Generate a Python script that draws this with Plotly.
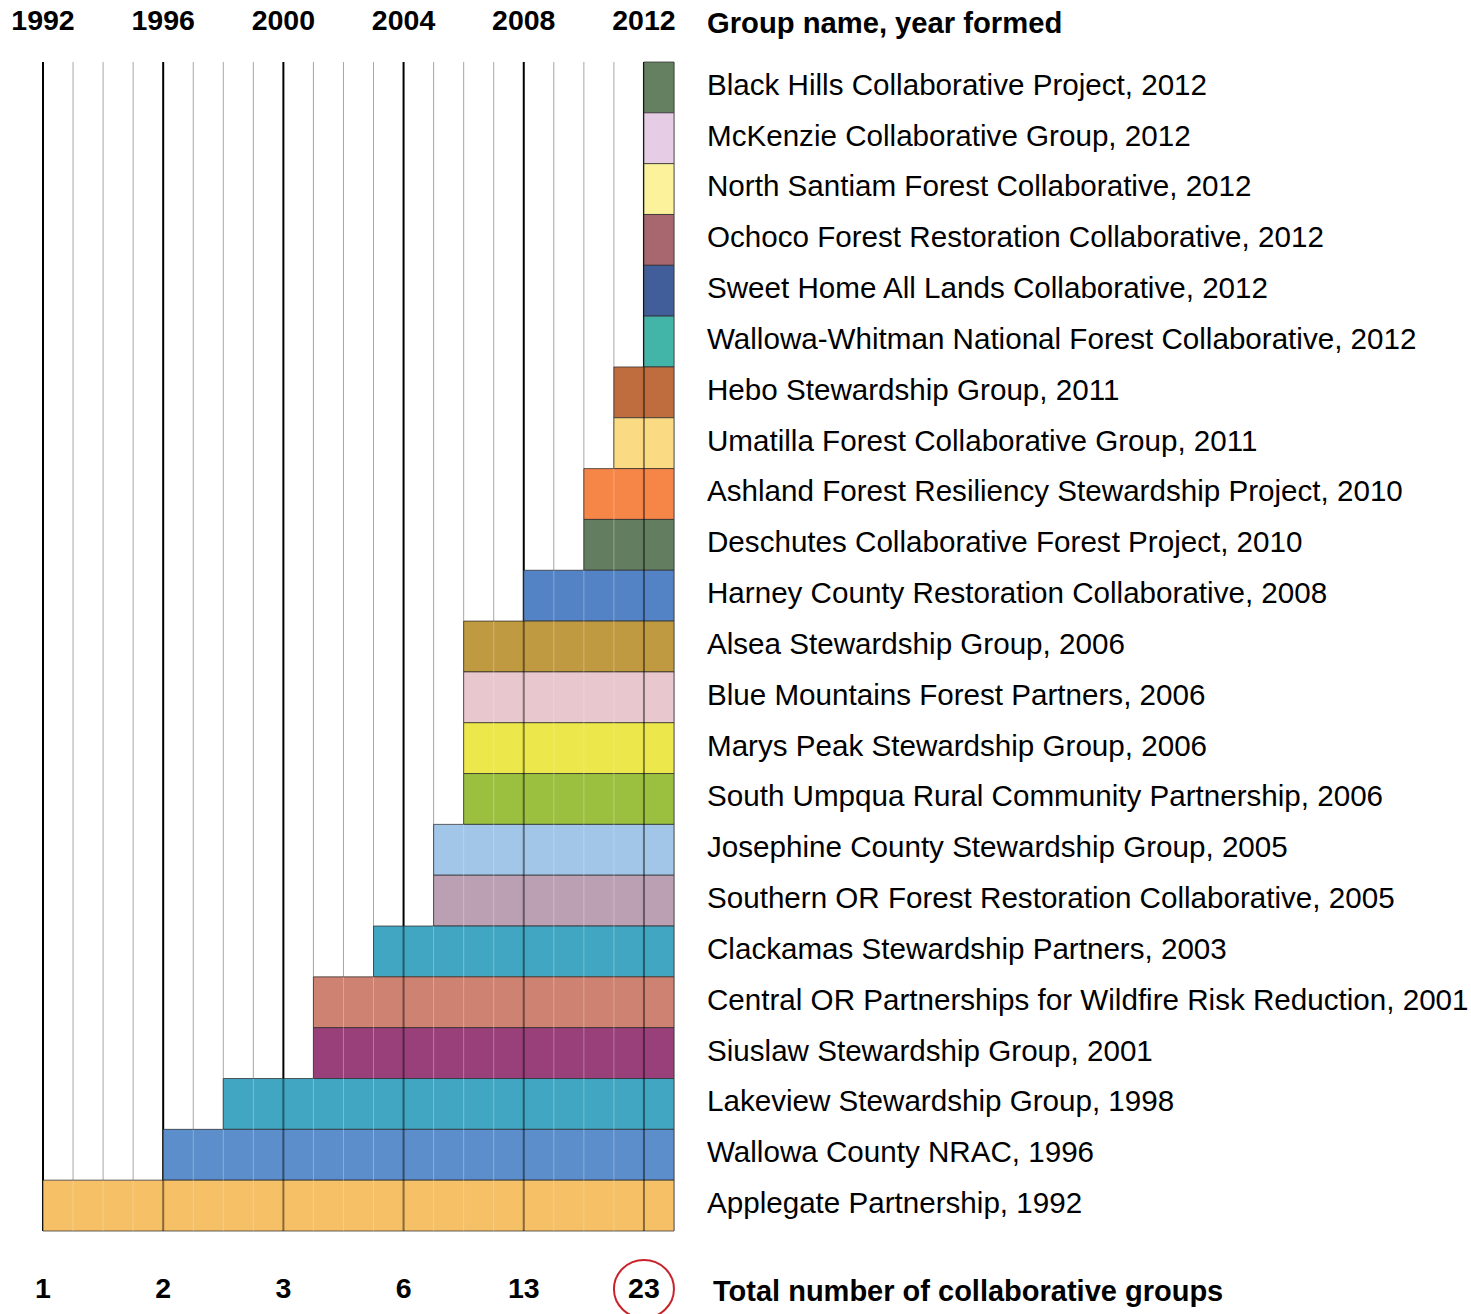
import plotly.graph_objects as go

groups = [
    "Black Hills Collaborative Project",
    "McKenzie Collaborative Group",
    "North Santiam Forest Collaborative",
    "Ochoco Forest Restoration Collaborative",
    "Sweet Home All Lands Collaborative",
    "Wallowa-Whitman National Forest Collaborative",
    "Hebo Stewardship Group",
    "Umatilla Forest Collaborative Group",
    "Ashland Forest Resiliency Stewardship Project",
    "Deschutes Collaborative Forest Project",
    "Harney County Restoration Collaborative",
    "Alsea Stewardship Group",
    "Blue Mountains Forest Partners",
    "Marys Peak Stewardship Group",
    "South Umpqua Rural Community Partnership",
    "Josephine County Stewardship Group",
    "Southern OR Forest Restoration Collaborative",
    "Clackamas Stewardship Partners",
    "Central OR Partnerships for Wildfire Risk Reduction",
    "Siuslaw Stewardship Group",
    "Lakeview Stewardship Group",
    "Wallowa County NRAC",
    "Applegate Partnership",
]
year_formed = [2012, 2012, 2012, 2012, 2012, 2012, 2011, 2011, 2010, 2010, 2008,
               2006, 2006, 2006, 2006, 2005, 2005, 2003, 2001, 2001, 1998, 1996, 1992]
bar_colors = ["#658060", "#E6CDE5", "#FBF29B", "#A8666E", "#425E9A", "#42B4A8",
              "#BF6C3F", "#FBDA84", "#F68548", "#637D61", "#5383C4", "#C09A41",
              "#E8C8CE", "#ECE84B", "#9BC03F", "#A2C6E8", "#BBA0B4", "#41A6C1",
              "#CE8272", "#99407A", "#41A6C1", "#5B8ECB", "#F5C066"]
tick_years = [1992, 1996, 2000, 2004, 2008, 2012]
end_year = 2013

n = len(groups)
rows = list(range(n))
totals = [sum(1 for f in year_formed if f <= y) for y in tick_years]

# pixel geometry -> axis ranges (page body margin removed below)
W, H = 1471, 1314
x0_px, x1_px = 43, 674
px_per_year = (x1_px - x0_px) / (end_year - 1992)
x_range = [1992 - x0_px / px_per_year, 1992 + (W - x0_px) / px_per_year]
top_px = 62
row_h = (1231 - 62) / n
y_range = [(H - top_px) / row_h - 0.5, -top_px / row_h - 0.5]

def ypx(p):
    return (p - top_px) / row_h - 0.5

def xpx(p):
    return 1992 + (p - x0_px) / px_per_year

label_x = xpx(707)
title_x = xpx(707)
total_title_x = xpx(713)

fig = go.Figure()

fig.add_trace(go.Bar(
    y=rows,
    x=[end_year - f for f in year_formed],
    base=year_formed,
    orientation="h",
    width=1,
    marker=dict(color=bar_colors, line=dict(color="rgba(45,45,45,0.75)", width=1)),
    hoverinfo="skip",
    showlegend=False,
))

fig.add_trace(go.Scatter(
    x=[label_x] * n,
    y=rows,
    mode="text",
    text=[f"{g}, {y}" for g, y in zip(groups, year_formed)],
    textposition="middle right",
    textfont=dict(family="Liberation Sans, Arial, sans-serif", size=29.6, color="#000000"),
    hoverinfo="skip",
    cliponaxis=False,
    showlegend=False,
))

boldfont = "Liberation Sans, Arial, sans-serif"

fig.add_trace(go.Scatter(
    x=tick_years,
    y=[ypx(23)] * len(tick_years),
    mode="text",
    text=[str(y) for y in tick_years],
    textposition="middle center",
    textfont=dict(family=boldfont, size=28.5, color="#000000", weight="bold"),
    hoverinfo="skip",
    cliponaxis=False,
    showlegend=False,
))

fig.add_trace(go.Scatter(
    x=tick_years,
    y=[ypx(1291)] * len(tick_years),
    mode="text",
    text=[str(t) for t in totals],
    textposition="middle center",
    textfont=dict(family=boldfont, size=28.5, color="#000000", weight="bold"),
    hoverinfo="skip",
    cliponaxis=False,
    showlegend=False,
))

shapes = []
all_years = list(range(1992, end_year + 1))
for yr in all_years:
    major = yr in tick_years
    shapes.append(dict(type="line", xref="x", yref="y", x0=yr, x1=yr, y0=-0.5, y1=n - 0.5,
                       line=dict(color="#000000" if major else "#A6A6A6", width=2 if major else 1),
                       layer="below"))
    covered = [k for k in rows if year_formed[k] < yr]
    if covered and yr < end_year:
        kmin = min(covered)
        shapes.append(dict(type="line", xref="x", yref="y", x0=yr, x1=yr, y0=kmin - 0.5, y1=n - 0.5,
                           line=dict(color="rgba(0,0,0,0.45)" if major else "rgba(235,235,235,0.35)",
                                     width=2 if major else 1),
                           layer="above"))

# red circle around the final total
cx = tick_years[-1]
cy = ypx(1289)
shapes.append(dict(type="circle", xref="x", yref="y",
                   x0=cx - 30 / px_per_year, x1=cx + 30 / px_per_year,
                   y0=cy - 29 / row_h, y1=cy + 29 / row_h,
                   line=dict(color="#C8222A", width=2), layer="above"))

annotations = [
    dict(x=title_x, y=ypx(23), xref="x", yref="y", text="<b>Group name, year formed</b>",
         showarrow=False, xanchor="left", yanchor="middle", xshift=-2,
         font=dict(family=boldfont, size=29.2, color="#000000")),
    dict(x=total_title_x, y=ypx(1291), xref="x", yref="y", text="<b>Total number of collaborative groups</b>",
         showarrow=False, xanchor="left", yanchor="middle", xshift=-2,
         font=dict(family=boldfont, size=29, color="#000000")),
]

fig.update_layout(
    width=W, height=H,
    margin=dict(l=0, r=0, t=0, b=0),
    paper_bgcolor="#FFFFFF", plot_bgcolor="#FFFFFF",
    bargap=0,
    xaxis=dict(range=x_range, visible=False, fixedrange=True),
    yaxis=dict(range=y_range, visible=False, fixedrange=True),
    shapes=shapes,
    annotations=annotations,
    showlegend=False,
)

fig.write_html("out.html",
               config={"displayModeBar": False, "staticPlot": True},
               post_script="document.body.style.margin='0';document.body.style.overflow='hidden';")
